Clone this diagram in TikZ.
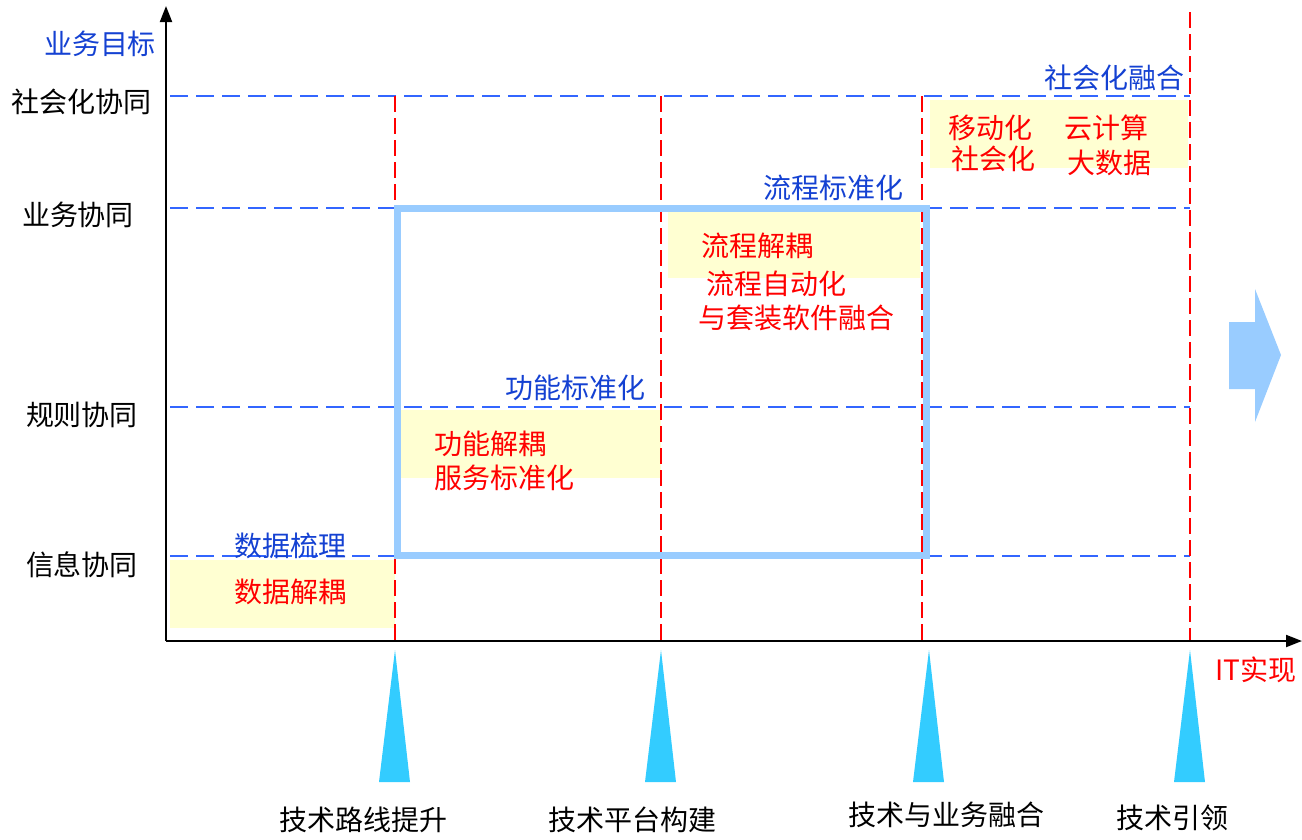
\documentclass[tikz,border=0pt]{standalone}
\usepackage{fontspec}
\setmainfont{Noto Sans CJK SC}
\usetikzlibrary{arrows.meta,shapes.arrows}
\definecolor{lblue}{RGB}{20,65,210}
\definecolor{dblue}{RGB}{51,102,255}
\definecolor{lred}{RGB}{255,0,0}
\definecolor{pyel}{RGB}{255,255,210}
\definecolor{frameblue}{RGB}{153,204,255}
\definecolor{cyanT}{RGB}{51,204,255}
\begin{document}
\begin{tikzpicture}[x=1pt,y=-1pt,
  txt/.style={font=\fontsize{28}{32}\selectfont, inner sep=0pt, anchor=center},
  bluetxt/.style={txt, text=lblue},
  redtxt/.style={txt, text=lred},
  blacktxt/.style={txt, text=black},
  hline/.style={dblue, line width=2.3pt, dash pattern=on 18pt off 8pt},
  vline/.style={lred, line width=2.3pt, dash pattern=on 16pt off 6pt},
  yelbox/.style={fill=pyel, draw=none},
  axis/.style={black, line width=2pt, -{Triangle[length=16pt,width=12pt]}},
  tri/.style={fill=cyanT, draw=none}]
\useasboundingbox (0,0) rectangle (1302,839);
% yellow boxes
\fill[yelbox] (170,560) rectangle (395,628);
\fill[yelbox] (400,410) rectangle (661,478);
\fill[yelbox] (668,212) rectangle (920,278);
\fill[yelbox] (930,100) rectangle (1188,168);
% horizontal dashed
\coordinate (h1a) at (170,96);  \coordinate (h1b) at (1190,96);
\coordinate (h2a) at (170,208); \coordinate (h2b) at (1190,208);
\coordinate (h3a) at (170,407); \coordinate (h3b) at (1190,407);
\coordinate (h4a) at (170,556); \coordinate (h4b) at (1190,556);
\draw[hline] (h1a) -- (h1b);
\draw[hline] (h2a) -- (h2b);
\draw[hline] (h3a) -- (h3b);
\draw[hline] (h4a) -- (h4b);
% vertical dashed
\coordinate (v1a) at (395,96);  \coordinate (v1b) at (395,641);
\coordinate (v2a) at (661,96);  \coordinate (v2b) at (661,641);
\coordinate (v3a) at (922,96);  \coordinate (v3b) at (922,641);
\coordinate (v4a) at (1190,12); \coordinate (v4b) at (1190,641);
\draw[vline] (v1a) -- (v1b);
\draw[vline] (v2a) -- (v2b);
\draw[vline] (v3a) -- (v3b);
\draw[vline] (v4a) -- (v4b);
% frame
\draw[frameblue, line width=7pt] (397,208) rectangle (926,555);
% axes
\coordinate (origin) at (166,641);
\coordinate (ytop) at (166,6);
\coordinate (xend) at (1302,641);
\draw[axis] (origin) -- (ytop);
\draw[axis] (origin) -- (xend);
% triangles
\fill[tri] (395,650) -- (410,782) -- (379,782) -- cycle;
\fill[tri] (661,650) -- (676,782) -- (645,782) -- cycle;
\fill[tri] (929,650) -- (944,782) -- (913,782) -- cycle;
\fill[tri] (1190,650) -- (1205,782) -- (1174,782) -- cycle;
% big arrow
\fill[frameblue] (1229,322) -- (1255,322) -- (1255,289) -- (1281,355) -- (1255,422) -- (1255,389) -- (1229,389) -- cycle;
% labels
\node[bluetxt] (goal) at (100,44) {业务目标};
\node[bluetxt] (shrh) at (1114,78) {社会化融合};
\node[bluetxt] (lcbz) at (833,188) {流程标准化};
\node[bluetxt] (gnbz) at (575,388) {功能标准化};
\node[bluetxt] (sjsl) at (290,546) {数据梳理};
\node[blacktxt] (y1) at (82,102) {社会化协同};
\node[blacktxt] (y2) at (78,215) {业务协同};
\node[blacktxt] (y3) at (82,415) {规则协同};
\node[blacktxt] (y4) at (82,565) {信息协同};
\node[redtxt] (sjjo) at (290,592) {数据解耦};
\node[redtxt, anchor=west] (gnjo) at (434,444) {功能解耦};
\node[redtxt, anchor=west] (fwbz) at (434,478) {服务标准化};
\node[redtxt, anchor=west] (lcjo) at (701,246) {流程解耦};
\node[redtxt, anchor=west] (lczd) at (706,284) {流程自动化};
\node[redtxt, anchor=west] (tzrj) at (698,318) {与套装软件融合};
\node[redtxt] (ydh) at (990,128) {移动化};
\node[redtxt] (shh) at (993,159) {社会化};
\node[redtxt] (yjs) at (1106,128) {云计算};
\node[redtxt] (dsj) at (1109,163) {大数据};
\node[redtxt] (itsx) at (1256,670) {IT实现};
\node[blacktxt] (b1) at (363,820) {技术路线提升};
\node[blacktxt] (b2) at (632,820) {技术平台构建};
\node[blacktxt] (b3) at (946,815) {技术与业务融合};
\node[blacktxt] (b4) at (1172,818) {技术引领};
\end{tikzpicture}
\end{document}
